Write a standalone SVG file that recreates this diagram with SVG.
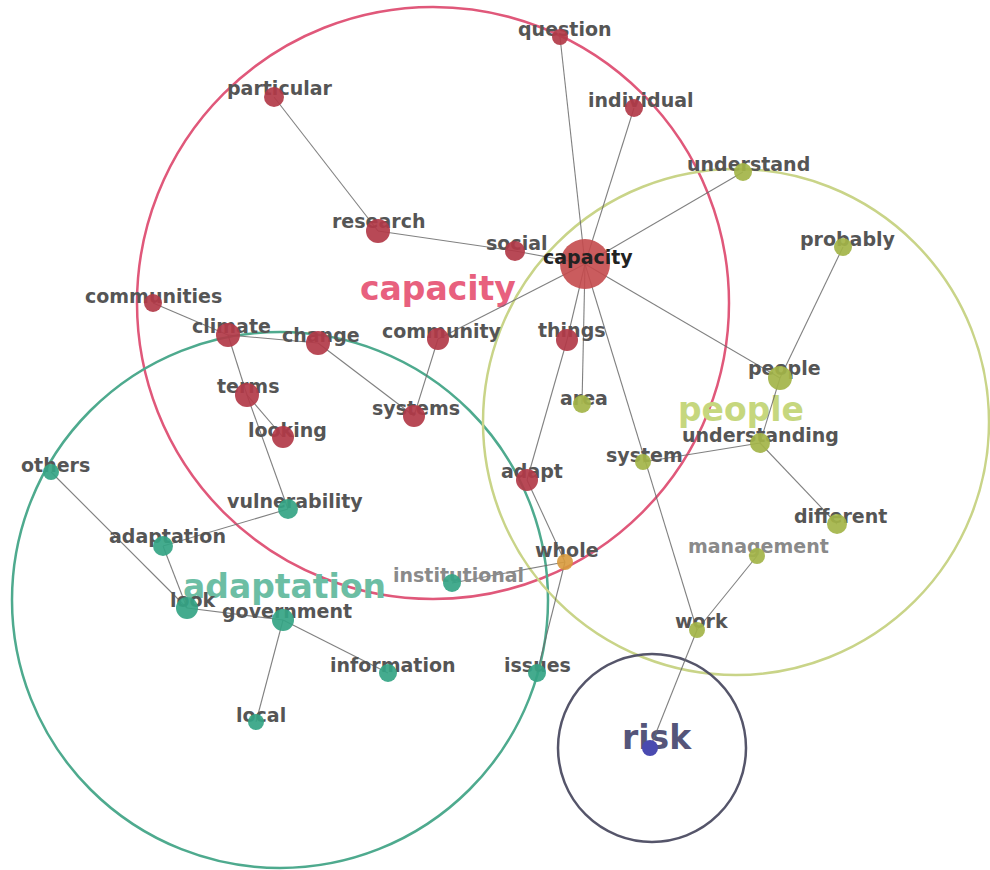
<svg xmlns="http://www.w3.org/2000/svg" width="990" height="870" viewBox="0 0 990 870">
  <style>
    .bg { fill: #ffffff; }
    .cluster { fill: none; stroke-width: 2.5; }
    .edge { stroke: #6a6a6a; stroke-width: 1.1; stroke-opacity: 0.85; fill: none; }
    .lbl { font-family: "DejaVu Sans", Verdana, sans-serif; font-weight: bold; font-size: 19px; fill: #555555; }
    .lbl.dark { fill: #222222; }
    .lbl.light { fill: #8a8a8a; }
    .big { font-family: "DejaVu Sans", Verdana, sans-serif; font-weight: bold; font-size: 33px; }
    .red { fill: #b23a48; fill-opacity: 0.92; }
    .hub { fill: #c44a4c; fill-opacity: 0.9; }
    .grn { fill: #a3b448; fill-opacity: 0.92; }
    .teal { fill: #34a484; fill-opacity: 0.92; }
    .blue { fill: #4a4ab0; }
    .orng { fill: #d89a3c; fill-opacity: 0.9; }
  </style>

  <rect class="bg" x="0" y="0" width="990" height="870"/>

  <!-- cluster outlines -->
  <g id="clusters">
    <circle id="cluster-capacity" class="cluster" cx="433" cy="303" r="296" stroke="#e0587a"/>
    <circle id="cluster-adaptation" class="cluster" cx="280" cy="600" r="268" stroke="#4eaa8e"/>
    <circle id="cluster-people" class="cluster" cx="736" cy="422" r="253" stroke="#c9d488"/>
    <circle id="cluster-risk" class="cluster" cx="652" cy="748" r="94" stroke="#55556a"/>
  </g>

  <!-- cluster titles -->
  <g id="titles">
    <text class="big" x="360" y="300" fill="#e8607e">capacity</text>
    <text class="big" x="678" y="421" fill="#c6d77e">people</text>
    <text class="big" x="183" y="598" fill="#6cbea4">adaptation</text>
    <text class="big" x="622" y="749" fill="#55557a">risk</text>
  </g>

  <!-- connectors -->
  <g id="connectors">
    <line class="edge" x1="274" y1="97" x2="378" y2="231"/>
    <line class="edge" x1="378" y1="231" x2="515" y2="251"/>
    <line class="edge" x1="515" y1="251" x2="585" y2="264"/>
    <line class="edge" x1="560" y1="37" x2="585" y2="264"/>
    <line class="edge" x1="634" y1="108" x2="585" y2="264"/>
    <line class="edge" x1="743" y1="172" x2="585" y2="264"/>
    <line class="edge" x1="585" y1="264" x2="780" y2="378"/>
    <line class="edge" x1="585" y1="264" x2="438" y2="339"/>
    <line class="edge" x1="585" y1="264" x2="567" y2="340"/>
    <line class="edge" x1="585" y1="264" x2="582" y2="404"/>
    <line class="edge" x1="585" y1="264" x2="697" y2="630"/>
    <line class="edge" x1="567" y1="340" x2="527" y2="480"/>
    <line class="edge" x1="843" y1="247" x2="780" y2="378"/>
    <line class="edge" x1="780" y1="378" x2="760" y2="443"/>
    <line class="edge" x1="760" y1="443" x2="643" y2="462"/>
    <line class="edge" x1="760" y1="443" x2="837" y2="524"/>
    <line class="edge" x1="757" y1="556" x2="697" y2="630"/>
    <line class="edge" x1="697" y1="630" x2="650" y2="748"/>
    <line class="edge" x1="153" y1="303" x2="228" y2="335"/>
    <line class="edge" x1="228" y1="335" x2="318" y2="343"/>
    <line class="edge" x1="228" y1="335" x2="247" y2="395"/>
    <line class="edge" x1="318" y1="343" x2="414" y2="416"/>
    <line class="edge" x1="438" y1="339" x2="414" y2="416"/>
    <line class="edge" x1="247" y1="395" x2="283" y2="437"/>
    <line class="edge" x1="247" y1="395" x2="288" y2="509"/>
    <line class="edge" x1="288" y1="509" x2="163" y2="546"/>
    <line class="edge" x1="51" y1="472" x2="187" y2="608"/>
    <line class="edge" x1="163" y1="546" x2="187" y2="608"/>
    <line class="edge" x1="187" y1="608" x2="283" y2="620"/>
    <line class="edge" x1="283" y1="620" x2="388" y2="673"/>
    <line class="edge" x1="283" y1="620" x2="256" y2="722"/>
    <line class="edge" x1="527" y1="480" x2="565" y2="562"/>
    <line class="edge" x1="565" y1="562" x2="452" y2="583"/>
    <line class="edge" x1="565" y1="562" x2="537" y2="673"/>
  </g>

  <!-- nodes: label first, marker on top -->
  <g id="node-question"><text class="lbl" x="518" y="36">question</text><circle class="red" cx="560" cy="37" r="8"/></g>
  <g id="node-particular"><text class="lbl" x="227" y="95">particular</text><circle class="red" cx="274" cy="97" r="10"/></g>
  <g id="node-individual"><text class="lbl" x="588" y="107">individual</text><circle class="red" cx="634" cy="108" r="9"/></g>
  <g id="node-research"><text class="lbl" x="332" y="228">research</text><circle class="red" cx="378" cy="231" r="12"/></g>
  <g id="node-social"><text class="lbl" x="486" y="250">social</text><circle class="red" cx="515" cy="251" r="10"/></g>
  <g id="node-understand"><text class="lbl" x="687" y="171">understand</text><circle class="grn" cx="743" cy="172" r="9"/></g>
  <g id="node-probably"><text class="lbl" x="800" y="246">probably</text><circle class="grn" cx="843" cy="247" r="9"/></g>
  <g id="node-communities"><text class="lbl" x="85" y="303">communities</text><circle class="red" cx="153" cy="303" r="9"/></g>
  <g id="node-climate"><text class="lbl" x="192" y="333">climate</text><circle class="red" cx="228" cy="335" r="12"/></g>
  <g id="node-change"><text class="lbl" x="282" y="342">change</text><circle class="red" cx="318" cy="343" r="12"/></g>
  <g id="node-community"><text class="lbl" x="382" y="338">community</text><circle class="red" cx="438" cy="339" r="11"/></g>
  <g id="node-things"><text class="lbl" x="538" y="337">things</text><circle class="red" cx="567" cy="340" r="11"/></g>
  <g id="node-terms"><text class="lbl" x="217" y="393">terms</text><circle class="red" cx="247" cy="395" r="12"/></g>
  <g id="node-area"><text class="lbl" x="560" y="405">area</text><circle class="grn" cx="582" cy="404" r="9"/></g>
  <g id="node-systems"><text class="lbl" x="372" y="415">systems</text><circle class="red" cx="414" cy="416" r="11"/></g>
  <g id="node-looking"><text class="lbl" x="248" y="437">looking</text><circle class="red" cx="283" cy="437" r="11"/></g>
  <g id="node-people"><text class="lbl" x="748" y="375">people</text><circle class="grn" cx="780" cy="378" r="12"/></g>
  <g id="node-understanding"><text class="lbl" x="682" y="442">understanding</text><circle class="grn" cx="760" cy="443" r="10"/></g>
  <g id="node-system"><text class="lbl" x="606" y="462">system</text><circle class="grn" cx="643" cy="462" r="8"/></g>
  <g id="node-others"><text class="lbl" x="21" y="472">others</text><circle class="teal" cx="51" cy="472" r="8"/></g>
  <g id="node-adapt"><text class="lbl" x="501" y="478">adapt</text><circle class="red" cx="527" cy="480" r="11"/></g>
  <g id="node-vulnerability"><text class="lbl" x="227" y="508">vulnerability</text><circle class="teal" cx="288" cy="509" r="10"/></g>
  <g id="node-different"><text class="lbl" x="794" y="523">different</text><circle class="grn" cx="837" cy="524" r="10"/></g>
  <g id="node-adaptation"><text class="lbl" x="109" y="543">adaptation</text><circle class="teal" cx="163" cy="546" r="10"/></g>
  <g id="node-whole"><text class="lbl" x="535" y="557">whole</text><circle class="orng" cx="565" cy="562" r="8"/></g>
  <g id="node-management"><text class="lbl light" x="688" y="553">management</text><circle class="grn" cx="757" cy="556" r="8"/></g>
  <g id="node-institutional"><text class="lbl light" x="393" y="582">institutional</text><circle class="teal" cx="452" cy="583" r="9"/></g>
  <g id="node-look"><text class="lbl" x="170" y="607">look</text><circle class="teal" cx="187" cy="608" r="11"/></g>
  <g id="node-government"><text class="lbl" x="222" y="618">government</text><circle class="teal" cx="283" cy="620" r="11"/></g>
  <g id="node-work"><text class="lbl" x="675" y="628">work</text><circle class="grn" cx="697" cy="630" r="8"/></g>
  <g id="node-information"><text class="lbl" x="330" y="672">information</text><circle class="teal" cx="388" cy="673" r="9"/></g>
  <g id="node-issues"><text class="lbl" x="504" y="672">issues</text><circle class="teal" cx="537" cy="673" r="9"/></g>
  <g id="node-local"><text class="lbl" x="236" y="722">local</text><circle class="teal" cx="256" cy="722" r="8"/></g>
  <g id="node-risk"><circle class="blue" cx="650" cy="748" r="8"/></g>
  <g id="node-capacity"><circle class="hub" cx="585" cy="264" r="25"/><text class="lbl dark" x="543" y="264">capacity</text></g>
</svg>
